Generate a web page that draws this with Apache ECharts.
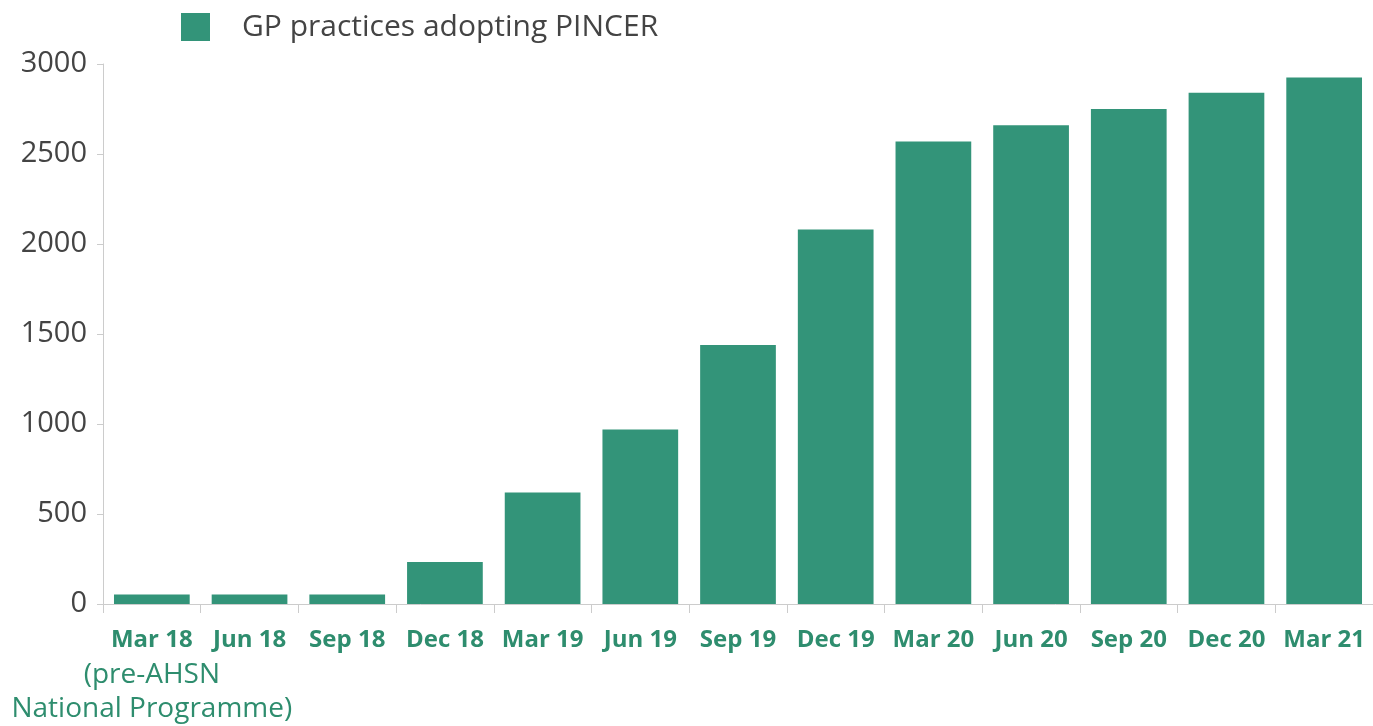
<!DOCTYPE html>
<html>
<head>
<meta charset="utf-8">
<script src="https://cdn.jsdelivr.net/npm/echarts@6/dist/echarts.min.js"></script>
<style>
html,body{margin:0;padding:0;background:#fff;}
#chart{width:1373px;height:726px;}
</style>
</head>
<body>
<div id="chart"></div>
<script>
const categories = ['Mar 18','Jun 18','Sep 18','Dec 18','Mar 19','Jun 19','Sep 19','Dec 19','Mar 20','Jun 20','Sep 20','Dec 20','Mar 21'];
const practices = [53, 53, 53, 233, 620, 970, 1439, 2080, 2570, 2660, 2750, 2840, 2925];
const firstLabelNote = ['(pre-AHSN', 'National Programme)'];
const seriesName = 'GP practices adopting PINCER';
const yTicks = { min: 0, max: 3000, interval: 500 };

const barColor = '#339479';
const labelGreen = '#2e8d6e';
const fontFamily = '"Open Sans", "Liberation Sans", sans-serif';

const chart = echarts.init(document.getElementById('chart'));
chart.setOption({
  animation: false,
  backgroundColor: '#fff',
  textStyle: { fontFamily: fontFamily },
  legend: {
    left: 181, top: 12, padding: 0,
    itemWidth: 29, itemHeight: 28,
    icon: 'rect',
    data: [seriesName],
    textStyle: { fontSize: 30, color: '#444', fontFamily: fontFamily, padding: [0,0,0,27], lineHeight: 28 }
  },
  grid: { left: 103, right: -10, top: 64, bottom: 122, containLabel: false },
  xAxis: {
    type: 'category',
    data: categories,
    axisLine: { lineStyle: { color: '#ccc', width: 1 } },
    axisTick: { show: true, length: 9, lineStyle: { color: '#ccc' } },
    axisLabel: {
      interval: 0,
      margin: 18,
      formatter: function (v, i) {
        if (i === 0) return '{b|' + v + '}\n' + firstLabelNote.map(s => '{n|' + s + '}').join('\n');
        return '{b|' + v + '}';
      },
      rich: {
        b: { fontSize: 24, fontWeight: 'bold', color: labelGreen, lineHeight: 36, fontFamily: fontFamily, align: 'center' },
        n: { fontSize: 28, color: labelGreen, lineHeight: 34, fontFamily: fontFamily, align: 'center' }
      }
    }
  },
  yAxis: {
    type: 'value',
    min: yTicks.min, max: yTicks.max, interval: yTicks.interval,
    axisLine: { show: true, lineStyle: { color: '#ccc', width: 1 } },
    axisTick: { show: true, length: 6, lineStyle: { color: '#ccc' } },
    splitLine: { show: false },
    axisLabel: { fontSize: 29, color: '#444', margin: 16, fontFamily: fontFamily, formatter: v => String(v) }
  },
  series: [{
    name: seriesName,
    type: 'bar',
    data: practices,
    barCategoryGap: '22.5%',
    itemStyle: { color: barColor }
  }]
});
</script>
</body>
</html>
